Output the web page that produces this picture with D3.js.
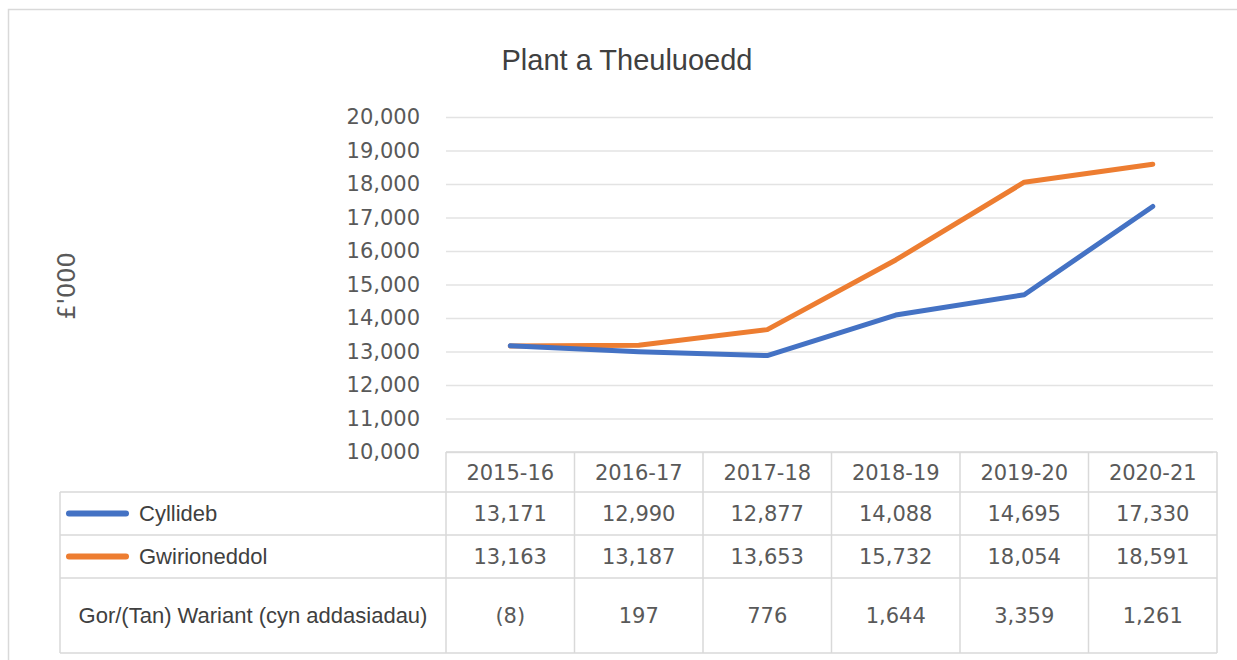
<!DOCTYPE html>
<html>
<head>
<meta charset="utf-8">
<script src="https://cdn.jsdelivr.net/npm/d3@7"></script>
<style>
  body { margin: 0; background: #fff; }
  svg { display: block; }
</style>
</head>
<body>
<svg id="chart" width="1237" height="660"></svg>
<script>
const years = ['2015-16', '2016-17', '2017-18', '2018-19', '2019-20', '2020-21']
const budget = [13171, 12990, 12877, 14088, 14695, 17330]
const actual = [13163, 13187, 13653, 15732, 18054, 18591]
const variance = ['(8)', '197', '776', '1,644', '3,359', '1,261']
const yTicks = [10000, 11000, 12000, 13000, 14000, 15000, 16000, 17000, 18000, 19000, 20000]

const series = [
  { name: 'Cyllideb', values: budget, color: '#4472c4' },
  { name: 'Gwirioneddol', values: actual, color: '#ed7d31' },
]

const grey = '#595959'
const lineGrey = '#d9d9d9'
const numFont = '"DejaVu Sans", sans-serif'
const textFont = '"Liberation Sans", Arial, sans-serif'

const layout = {
  left: 446, right: 1217,
  top: 117, bottom: 452,
  tableLeft: 60,
  rows: [452, 492, 535, 578, 653],
}

const svg = d3.select('#chart')

// outer frame
svg.append('rect')
  .attr('x', 8.5).attr('y', 9.5)
  .attr('width', 1300).attr('height', 700)
  .attr('fill', 'none')
  .attr('stroke', lineGrey)
  .attr('stroke-width', 1.5)

svg.append('text')
  .attr('x', 627).attr('y', 70)
  .attr('text-anchor', 'middle')
  .attr('font-family', textFont)
  .attr('font-size', 29)
  .attr('fill', '#404040')
  .text('Plant a Theuluoedd')

const x = d3.scaleBand()
  .domain(years)
  .range([layout.left, layout.right])

const y = d3.scaleLinear()
  .domain([10000, 20000])
  .range([layout.bottom, layout.top])

// gridlines + y labels
const yAxis = d3.axisLeft(y)
  .tickValues(yTicks)
  .tickFormat(d3.format(','))
  .tickSize(-(layout.right - 4 - layout.left))
  .tickPadding(26)

const gy = svg.append('g')
  .attr('transform', `translate(${layout.left},0)`)
  .call(yAxis)
gy.select('.domain').remove()
gy.selectAll('.tick line')
  .attr('stroke', '#e3e3e3')
  .attr('stroke-width', 1.5)
gy.selectAll('.tick text')
  .attr('font-family', numFont)
  .attr('font-size', 21)
  .attr('fill', grey)

svg.append('text')
  .attr('transform', 'translate(75,286) rotate(-90)')
  .attr('text-anchor', 'middle')
  .attr('font-family', numFont)
  .attr('font-size', 24)
  .attr('fill', grey)
  .text("£'000")

// lines
const line = d3.line()
  .x((d, i) => x(years[i]) + x.bandwidth() / 2)
  .y((d) => y(d))

svg.append('g')
  .selectAll('path')
  .data(series.slice().reverse())
  .join('path')
  .attr('d', (d) => line(d.values))
  .attr('fill', 'none')
  .attr('stroke', (d) => d.color)
  .attr('stroke-width', 5)
  .attr('stroke-linejoin', 'round')
  .attr('stroke-linecap', 'round')

// data table
const table = svg.append('g')
  .attr('stroke', lineGrey)
  .attr('stroke-width', 1.5)

table.append('line')
  .attr('x1', layout.left).attr('x2', layout.right)
  .attr('y1', layout.rows[0]).attr('y2', layout.rows[0])
layout.rows.slice(1).forEach((ry) => {
  table.append('line')
    .attr('x1', layout.tableLeft).attr('x2', layout.right)
    .attr('y1', ry).attr('y2', ry)
})
table.append('line')
  .attr('x1', layout.tableLeft).attr('x2', layout.tableLeft)
  .attr('y1', layout.rows[1]).attr('y2', layout.rows[4])
years.concat(['end']).forEach((yr, i) => {
  const cx = layout.left + i * x.bandwidth()
  table.append('line')
    .attr('x1', cx).attr('x2', cx)
    .attr('y1', layout.rows[0]).attr('y2', layout.rows[4])
})

const rowMid = (i) => (layout.rows[i] + layout.rows[i + 1]) / 2

const cellText = (sel, values, row) => {
  sel.append('g')
    .selectAll('text')
    .data(values)
    .join('text')
    .attr('x', (d, i) => x(years[i]) + x.bandwidth() / 2)
    .attr('y', rowMid(row))
    .attr('dy', '0.36em')
    .attr('text-anchor', 'middle')
    .attr('font-family', numFont)
    .attr('font-size', 21)
    .attr('fill', grey)
    .text((d) => d)
}

cellText(svg, years, 0)
series.forEach((s, si) => {
  cellText(svg, s.values.map(d3.format(',')), si + 1)
  svg.append('line')
    .attr('x1', 69).attr('x2', 126)
    .attr('y1', rowMid(si + 1)).attr('y2', rowMid(si + 1))
    .attr('stroke', s.color)
    .attr('stroke-width', 6)
    .attr('stroke-linecap', 'round')
  svg.append('text')
    .attr('x', 139).attr('y', rowMid(si + 1))
    .attr('dy', '0.36em')
    .attr('font-family', textFont)
    .attr('font-size', 22)
    .attr('fill', '#404040')
    .text(s.name)
})
cellText(svg, variance, 3)

svg.append('text')
  .attr('x', (layout.tableLeft + layout.left) / 2).attr('y', rowMid(3))
  .attr('dy', '0.36em')
  .attr('text-anchor', 'middle')
  .attr('font-family', textFont)
  .attr('font-size', 22)
  .attr('fill', '#404040')
  .text('Gor/(Tan) Wariant (cyn addasiadau)')
</script>
</body>
</html>
